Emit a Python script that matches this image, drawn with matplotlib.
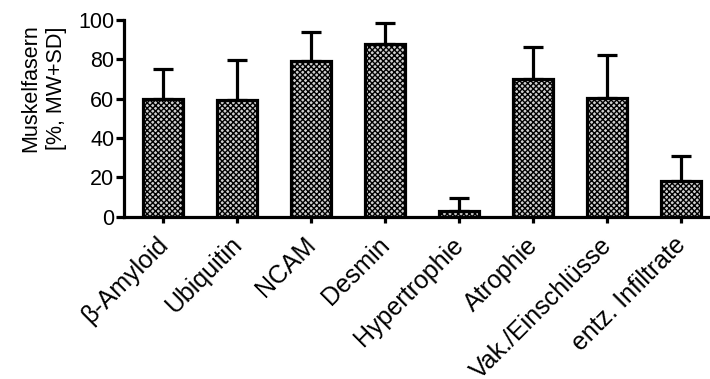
import matplotlib
matplotlib.use("Agg")
import matplotlib.pyplot as plt
import matplotlib.transforms as mtransforms
import numpy as np

plt.rcParams['font.family'] = ['Liberation Sans', 'DejaVu Sans']
plt.rcParams['hatch.color'] = '#555555'
plt.rcParams['hatch.linewidth'] = 1.0

categories = ["β-Amyloid", "Ubiquitin", "NCAM", "Desmin", "Hypertrophie",
              "Atrophie", "Vak./Einschlüsse", "entz. Infiltrate"]
means = [60, 59.5, 79, 88, 3, 70, 60.5, 18]
sds = [15, 20, 15, 10.5, 6.5, 16.5, 21.5, 13]
yticks = [0, 20, 40, 60, 80, 100]

fig = plt.figure(figsize=(7.1, 3.79), dpi=100)
ax = fig.add_axes([0.1746, 0.428, 0.8254, 0.519])
x = np.arange(len(categories))
ax.bar(x, means, width=0.54, color='#cfcfcf', edgecolor='black', linewidth=2.3,
       hatch='xxxxxx', zorder=2)
ax.errorbar(x, means, yerr=[np.zeros(len(sds)), sds], fmt='none', ecolor='black',
            elinewidth=2.3, capsize=7.5, capthick=2.3, zorder=1)
ax.set_ylim(0, 100)
ax.set_xlim(-0.527, 7.39)
ax.set_yticks(yticks)
ax.set_xticks(x)
ax.set_xticklabels(categories, rotation=45, ha='right', va='center',
                   rotation_mode='anchor', fontsize=18)
ax.tick_params(axis='y', labelsize=15.5, width=2.3, length=6, pad=1)
ax.tick_params(axis='x', width=2.3, length=4, pad=0)
offset = mtransforms.ScaledTranslation(1 / 100, -19 / 100, fig.dpi_scale_trans)
for lab in ax.get_xticklabels():
    lab.set_transform(lab.get_transform() + offset)
for s in ['top', 'right']:
    ax.spines[s].set_visible(False)
for s in ['left', 'bottom']:
    ax.spines[s].set_linewidth(2.3)
ax.set_ylabel("Muskelfasern\n[%, MW+SD]", fontsize=15.5, linespacing=1.3)
ax.yaxis.set_label_coords(-0.097, 0.654)
fig.savefig("out.png", dpi=100)
